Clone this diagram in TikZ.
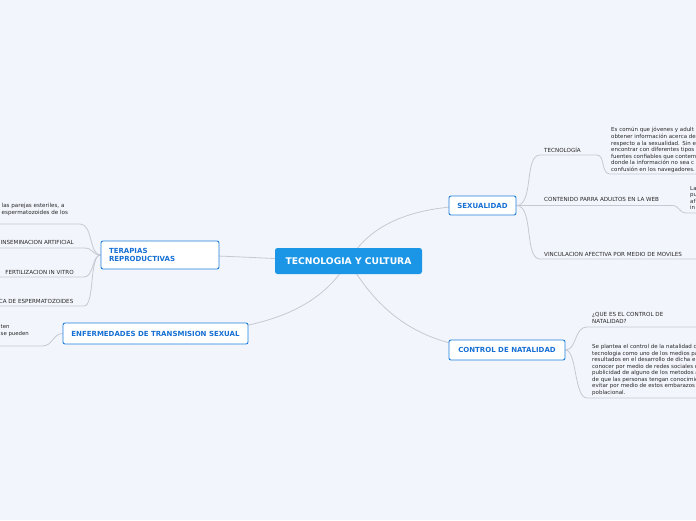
\documentclass[tikz,border=0pt]{standalone}
\usepackage{fontspec}
\setmainfont{DejaVu Sans}
\definecolor{bgc}{RGB}{243,245,252}
\definecolor{linec}{RGB}{198,200,212}
\definecolor{boxborder}{RGB}{30,128,220}
\definecolor{boxtext}{RGB}{22,112,212}
\definecolor{rootc}{RGB}{27,150,230}
\definecolor{txt}{RGB}{40,40,40}
\pgfdeclarelayer{bg}
\pgfdeclarelayer{edges}
\pgfsetlayers{bg,edges,main}
\tikzset{
  conn/.style={draw=linec, line width=0.8pt},
  mainbox/.style={draw=boxborder, line width=0.9pt, fill=white, rounded corners=2pt,
    text=boxtext, font=\fontsize{7}{8.5}\selectfont\bfseries, inner sep=0pt},
  rootbox/.style={fill=rootc, rounded corners=2.5pt, text=white,
    font=\fontsize{9.2}{10}\selectfont\bfseries, inner sep=0pt},
  lbl/.style={font=\fontsize{5.6}{6.5}\selectfont, text=txt, inner sep=0pt, align=left},
  detail/.style={font=\fontsize{5.5}{6.6}\selectfont, text=txt, inner sep=0pt, align=left}
}
\begin{document}
\begin{tikzpicture}[x=1pt,y=-1pt]
\useasboundingbox (0,0) rectangle (696,520);
\begin{pgfonlayer}{bg}
\fill[bgc] (0,0) rectangle (696,520);
\end{pgfonlayer}
\clip (0,0) rectangle (696,520);

% main nodes
\node[rootbox, minimum width=147pt, minimum height=26pt] (root) at (348.5,261) {TECNOLOGIA Y CULTURA};
\node[mainbox, minimum width=67pt, minimum height=19pt] (sex) at (482.5,205.5) {SEXUALIDAD};
\node[mainbox, minimum width=116pt, minimum height=20pt] (ctl) at (507,350) {CONTROL DE NATALIDAD};
\node[mainbox, minimum width=118pt, minimum height=28pt, text width=102pt, align=left] (ter) at (160,255) {TERAPIAS\\REPRODUCTIVAS};
\node[mainbox, minimum width=185pt, minimum height=21pt] (enf) at (155.5,333.5) {ENFERMEDADES DE TRANSMISION SEXUAL};

% SEXUALIDAD children
\node[lbl, anchor=base west] (tec) at (544,152) {TECNOLOGÍA};
\node[lbl, anchor=base west] (web) at (544,201) {CONTENIDO PARRA ADULTOS EN LA WEB};
\node[lbl, anchor=base west] (mov) at (544,256) {VINCULACION AFECTIVA POR MEDIO DE MOVILES};
\node[detail, anchor=north west] (tecd) at (611,127.3) {Es común que jóvenes y adult\\obtener información acerca de\\respecto a la sexualidad. Sin e\\encontrar con diferentes tipos\\fuentes confiables que contem\\donde la información no sea c\\confusión en los navegadores.};
\node[detail, anchor=north west, font=\fontsize{5.5}{6.5}\selectfont] (webd) at (690,185.8) {La\\pu\\af\\in};

% CONTROL children
\node[lbl, anchor=north west] (que) at (592,312.3) {¿QUE ES EL CONTROL DE\\NATALIDAD?};
\node[detail, anchor=north west, font=\fontsize{5.5}{6.5}\selectfont] (ctld) at (592,344.6) {Se plantea el control de la natalidad c\\tecnologia como uno de los medios pa\\resultados en el desarrollo de dicha e\\conocer por medio de redes sociales o\\publicidad de alguno de los metodos a\\de que las personas tengan conocimie\\evitar por medio de estos embarazos\\poblacional.};

% TERAPIAS children
\node[lbl, anchor=north west] (est) at (1.5,203.2) {las parejas esteriles, a\\espermatozoides de los};
\node[lbl, anchor=base east] (ins) at (74,244) {INSEMINACION ARTIFICIAL};
\node[lbl, anchor=base east] (fiv) at (74,274) {FERTILIZACION IN VITRO};
\node[lbl, anchor=base east] (esp) at (73.5,303) {CA DE ESPERMATOZOIDES};

% ENFERMEDADES child
\node[lbl, anchor=north west, font=\fontsize{5.4}{6.8}\selectfont] (ets) at (0.5,324.3) {ten\\se pueden};

\begin{pgfonlayer}{edges}
% root connectors
\draw[conn] (root.center) .. controls (368,228) and (405,205.5) .. (sex.center);
\draw[conn] (root.center) .. controls (372,300) and (410,350) .. (ctl.center);
\draw[conn] (root.center) .. controls (260,259) and (230,255) .. (ter.center);
\draw[conn] (root.center) .. controls (325,300) and (280,333.5) .. (enf.center);
% SEXUALIDAD branches
\coordinate (t1a) at (540,155);
\coordinate (t1b) at (597,155);
\coordinate (t1c) at (610,174);
\coordinate (t1d) at (696,174);
\draw[conn] (sex.east) .. controls (534,205.5) and (524,155) .. (t1a) -- (t1b)
   .. controls (605,155) and (601,174) .. (t1c) -- (t1d);
\coordinate (t2b) at (672,205.5);
\coordinate (t2c) at (687,213);
\coordinate (t2d) at (696,213);
\draw[conn] (sex.east) -- (t2b) .. controls (680,205.5) and (678,213) .. (t2c) -- (t2d);
\coordinate (t3a) at (540,259);
\coordinate (t3d) at (696,259);
\draw[conn] (sex.east) .. controls (534,205.5) and (524,259) .. (t3a) -- (t3d);
% CONTROL branches
\coordinate (c1a) at (587,327);
\coordinate (c1d) at (696,327);
\coordinate (c2a) at (587,398);
\coordinate (c2d) at (696,398);
\draw[conn] (ctl.east) .. controls (577,350) and (574,327) .. (c1a) -- (c1d);
\draw[conn] (ctl.east) .. controls (577,350) and (574,398) .. (c2a) -- (c2d);
% TERAPIAS branches
\coordinate (r1a) at (80,224);  \coordinate (r1d) at (0,224);
\coordinate (r2a) at (84,248);  \coordinate (r2d) at (0,248);
\coordinate (r3a) at (84,277);  \coordinate (r3d) at (0,277);
\coordinate (r4a) at (84,306);  \coordinate (r4d) at (0,306);
\draw[conn] (ter.west) .. controls (89,255) and (93,224) .. (r1a) -- (r1d);
\draw[conn] (ter.west) .. controls (92,255) and (94,248) .. (r2a) -- (r2d);
\draw[conn] (ter.west) .. controls (92,255) and (94,277) .. (r3a) -- (r3d);
\draw[conn] (ter.west) .. controls (89,255) and (95,306) .. (r4a) -- (r4d);
% ENFERMEDADES branch
\coordinate (e1a) at (42,346);  \coordinate (e1d) at (0,346);
\draw[conn] (enf.west) .. controls (53,333.5) and (53,346) .. (e1a) -- (e1d);
\end{pgfonlayer}
\end{tikzpicture}
\end{document}
